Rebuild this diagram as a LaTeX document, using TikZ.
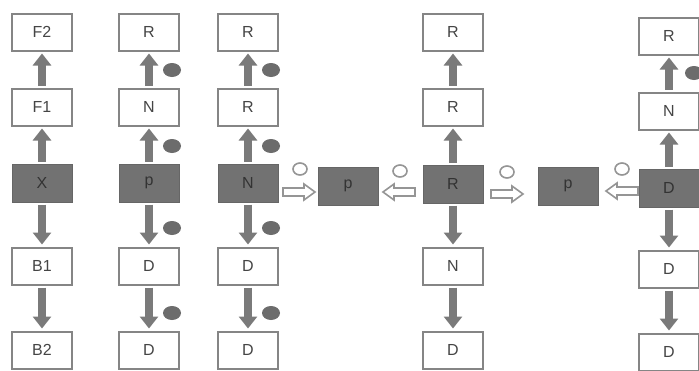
\documentclass[tikz,border=0pt]{standalone}
\usepackage{fontspec}
\setmainfont{Liberation Sans}
\usetikzlibrary{arrows.meta,calc}
\definecolor{boxline}{HTML}{858585}
\definecolor{boxtext}{HTML}{454545}
\definecolor{darkfill}{HTML}{727272}
\definecolor{darkline}{HTML}{666666}
\definecolor{darktext}{HTML}{333333}
\definecolor{arrowgray}{HTML}{7A7A7A}
\definecolor{dotgray}{HTML}{6C6C6C}
\definecolor{hollowline}{HTML}{959595}
\begin{document}
\begin{tikzpicture}[x=1pt,y=-1pt,
  wbox/.style={draw=boxline, line width=2pt, fill=white, minimum width=60pt, minimum height=37pt, inner sep=0pt, font=\fontsize{16}{16}\selectfont, text=boxtext},
  dbox/.style={draw=darkline, line width=1pt, fill=darkfill, minimum width=60pt, minimum height=38pt, inner sep=0pt, font=\fontsize{16}{16}\selectfont, text=darktext},
  barrow/.style={draw=arrowgray, line width=8pt, -{Triangle[length=12pt,width=18pt]}, shorten <=2pt, shorten >=2pt},
  dotmark/.style={fill=dotgray},
  hollowmark/.style={draw=hollowline, line width=1.6pt, fill=white},
  harrow/.pic={\draw[hollowmark] (-16,-4) -- (5,-4) -- (5,-8) -- (16,0) -- (5,8) -- (5,4) -- (-16,4) -- cycle;}
]
\useasboundingbox (0,0) rectangle (699,370);
\fill[white] (0,0) rectangle (699,370);

% column 1
\node[wbox] (f2) at (42,32) {F2};
\node[wbox] (f1) at (42,107) {F1};
\node[dbox] (x) at (42,183) {X};
\node[wbox] (b1) at (42,266) {B1};
\node[wbox] (b2) at (42,350) {B2};
\draw[barrow] (f1) -- (f2);
\draw[barrow] (x) -- (f1);
\draw[barrow] (x) -- (b1);
\draw[barrow] (b1) -- (b2);

% column 2
\node[wbox] (c2a) at (149,32) {R};
\node[wbox] (c2b) at (149,107) {N};
\node[dbox] (c2c) at (149,183) {p};
\node[wbox] (c2d) at (149,266) {D};
\node[wbox] (c2e) at (149,350) {D};
\draw[barrow] (c2b) -- (c2a);
\draw[barrow] (c2c) -- (c2b);
\draw[barrow] (c2c) -- (c2d);
\draw[barrow] (c2d) -- (c2e);
\foreach \yy in {70,146,228,313} \fill[dotmark] (172,\yy) ellipse [x radius=9pt, y radius=7pt];

% column 3
\node[wbox] (c3a) at (248,32) {R};
\node[wbox] (c3b) at (248,107) {R};
\node[dbox] (c3c) at (248,183) {N};
\node[wbox] (c3d) at (248,266) {D};
\node[wbox] (c3e) at (248,350) {D};
\draw[barrow] (c3b) -- (c3a);
\draw[barrow] (c3c) -- (c3b);
\draw[barrow] (c3c) -- (c3d);
\draw[barrow] (c3d) -- (c3e);
\foreach \yy in {70,146,228,313} \fill[dotmark] (271,\yy) ellipse [x radius=9pt, y radius=7pt];

% column 4
\node[dbox] (c4) at (348,186) {p};

% column 5
\node[wbox] (c5a) at (453,32) {R};
\node[wbox] (c5b) at (453,107) {R};
\node[dbox] (c5c) at (453,184) {R};
\node[wbox] (c5d) at (453,266) {N};
\node[wbox] (c5e) at (453,350) {D};
\draw[barrow] (c5b) -- (c5a);
\draw[barrow] (c5c) -- (c5b);
\draw[barrow] (c5c) -- (c5d);
\draw[barrow] (c5d) -- (c5e);

% column 6
\node[dbox] (c6) at (568,186) {p};

% column 7
\node[wbox] (c7a) at (669,36) {R};
\node[wbox] (c7b) at (669,111) {N};
\node[dbox] (c7c) at (669,188) {D};
\node[wbox] (c7d) at (669,269) {D};
\node[wbox] (c7e) at (669,352) {D};
\draw[barrow] (c7b) -- (c7a);
\draw[barrow] (c7c) -- (c7b);
\draw[barrow] (c7c) -- (c7d);
\draw[barrow] (c7d) -- (c7e);
\fill[dotmark] (694,73) ellipse [x radius=9pt, y radius=7pt];

% hollow arrows and circles in the middle row
\pic at (299,192) {harrow};
\pic[xscale=-1] at (399,192) {harrow};
\pic at (507,194) {harrow};
\pic[xscale=-1] at (622,191) {harrow};
\foreach \cx/\cy in {300/169, 400/171, 507/172, 622/169}
  \draw[hollowmark] (\cx,\cy) ellipse [x radius=7pt, y radius=6pt];
\end{tikzpicture}
\end{document}
